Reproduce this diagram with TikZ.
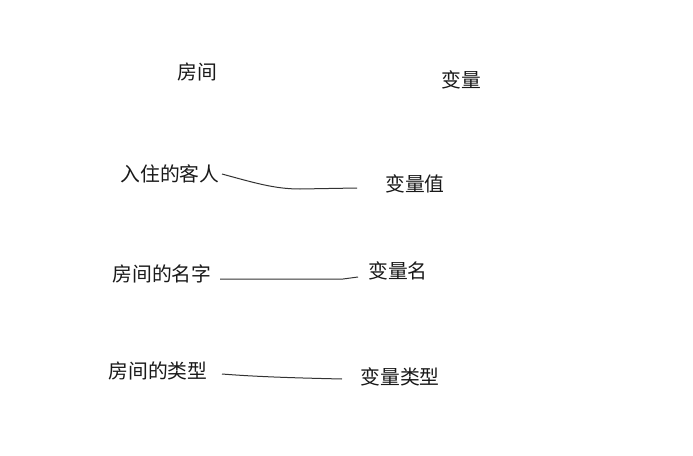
\documentclass[tikz,border=0pt]{standalone}
\usepackage{fontspec}
\newfontfamily\cjk{Noto Sans CJK SC}
\begin{document}
\begin{tikzpicture}[x=1pt,y=-1pt,
  lbl/.style={font=\cjk\fontsize{19.8}{22}\selectfont, text=black!90, inner sep=0pt, anchor=center},
  hand/.style={draw=black!80, line width=1pt}]
\useasboundingbox[fill=white] (0,0) rectangle (693,455);
\node[lbl] (room) at (197,72) {房间};
\node[lbl] (var) at (461,80) {变量};
\node[lbl] (guest) at (170,174) {入住的客人};
\node[lbl] (val) at (415,184) {变量值};
\node[lbl] (rname) at (162,274) {房间的名字};
\node[lbl] (vname) at (398,271) {变量名};
\node[lbl] (rtype) at (158,371) {房间的类型};
\node[lbl] (vtype) at (400,377) {变量类型};
\coordinate (a1) at (222,174);
\coordinate (b1) at (357,188);
\coordinate (a2) at (220,279);
\coordinate (m2) at (343,279);
\coordinate (b2) at (358,277);
\coordinate (a3) at (222,374);
\coordinate (b3) at (342,379);
\draw[hand] (a1) .. controls (255,183) and (275,189) .. (300,189) -- (b1);
\draw[hand] (a2) -- (m2) -- (b2);
\draw[hand] (a3) .. controls (260,377) and (300,378) .. (b3);
\end{tikzpicture}
\end{document}
